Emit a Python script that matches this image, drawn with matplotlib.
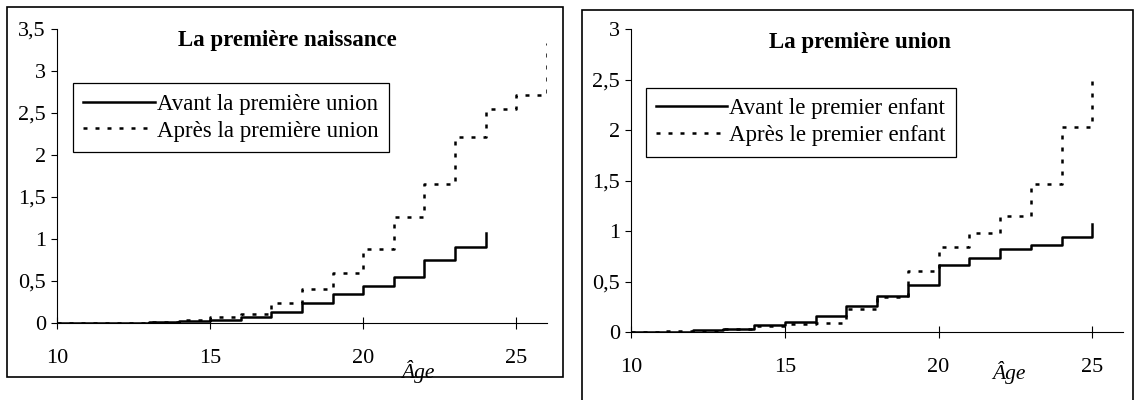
# -*- coding: utf-8 -*-
#%% modules
import matplotlib.pyplot as plt
from matplotlib.patches import Rectangle

plt.rcParams['font.family'] = ['Liberation Serif', 'DejaVu Serif']

#%% données (âge -> valeur cumulée, marches)
ages_naiss_avant = [10, 11, 12, 13, 14, 15, 16, 17, 18, 19, 20, 21, 22, 23, 24]
naiss_avant = [0, 0, 0, 0.01, 0.02, 0.04, 0.07, 0.13, 0.24, 0.34, 0.44, 0.55, 0.75, 0.91, 1.07]

ages_naiss_apres = [10, 11, 12, 13, 14, 15, 16, 17, 18, 19, 20, 21, 22, 23, 24, 25, 26]
naiss_apres = [0, 0, 0, 0.01, 0.03, 0.07, 0.11, 0.24, 0.40, 0.59, 0.88, 1.26, 1.65, 2.22, 2.55, 2.72, 3.33]

ages_union = [10, 11, 12, 13, 14, 15, 16, 17, 18, 19, 20, 21, 22, 23, 24, 25]
union_avant = [0, 0, 0.02, 0.03, 0.07, 0.10, 0.16, 0.26, 0.36, 0.47, 0.66, 0.73, 0.82, 0.86, 0.94, 1.07]
union_apres = [0, 0.005, 0.01, 0.03, 0.06, 0.08, 0.09, 0.23, 0.35, 0.60, 0.84, 0.98, 1.15, 1.47, 2.03, 2.55]

xticks = [10, 15, 20, 25]
yticks_g = [0, 0.5, 1, 1.5, 2, 2.5, 3, 3.5]
ylabels_g = ['0', '0,5', '1', '1,5', '2', '2,5', '3', '3,5']
yticks_d = [0, 0.5, 1, 1.5, 2, 2.5, 3]
ylabels_d = ['0', '0,5', '1', '1,5', '2', '2,5', '3']

#%% canevas
fig = plt.figure(figsize=(11.35, 4), dpi=100)

# cadres autour de chaque graphique
fig.add_artist(Rectangle((0.0062, 0.0575), 0.49, 0.925, transform=fig.transFigure,
                         fill=False, lw=1.2, ec='black'))
fig.add_artist(Rectangle((0.5128, -0.02), 0.485, 0.995, transform=fig.transFigure,
                         fill=False, lw=1.2, ec='black'))

dots = (0, (1.6, 3.2))


def habillage(ax, ymax, yticks, ylabels):
    ax.set_xlim(10, 26)
    ax.set_ylim(0, ymax)
    for s in ['top', 'right']:
        ax.spines[s].set_visible(False)
    ax.spines['left'].set_linewidth(0.8)
    ax.spines['bottom'].set_linewidth(0.8)
    ax.set_xticks(xticks)
    ax.set_yticks(yticks)
    ax.set_yticklabels(ylabels)
    ax.tick_params(axis='x', direction='inout', length=8, width=0.8, pad=15, labelsize=16)
    ax.tick_params(axis='y', direction='out', length=4, width=0.8, pad=4, labelsize=16)
    ax.patch.set_alpha(0)


#%% gauche : la première naissance
ax1 = fig.add_axes([0.0502, 0.1925, 0.4317, 0.735])
ax1.step(ages_naiss_avant, naiss_avant, where='post', color='black', lw=1.8,
         label='Avant la première union')
ax1.step(ages_naiss_apres, naiss_apres, where='post', color='black', lw=1.8,
         linestyle=dots, label='Après la première union')
habillage(ax1, 3.5, yticks_g, ylabels_g)
ax1.text(0.47, 0.96, 'La première naissance', transform=ax1.transAxes,
         ha='center', va='center', fontsize=16.5, fontweight='bold')
ax1.text(0.737, -0.165, 'Âge', transform=ax1.transAxes, ha='center', va='center',
         fontsize=15.5, style='italic')
leg1 = ax1.legend(loc='upper left', bbox_to_anchor=(0.033, 0.815), fontsize=16.5,
                  frameon=True, fancybox=False, edgecolor='black', framealpha=1,
                  handlelength=3.1, handletextpad=0.1, borderpad=0.45,
                  labelspacing=0.25, borderaxespad=0)
leg1.get_frame().set_linewidth(0.9)

#%% droite : la première union
ax2 = fig.add_axes([0.556, 0.17, 0.4335, 0.7575])
ax2.step(ages_union, union_avant, where='post', color='black', lw=1.8,
         label='Avant le premier enfant')
ax2.step(ages_union, union_apres, where='post', color='black', lw=1.8,
         linestyle=dots, label='Après le premier enfant')
habillage(ax2, 3, yticks_d, ylabels_d)
ax2.text(0.465, 0.955, 'La première union', transform=ax2.transAxes,
         ha='center', va='center', fontsize=16.5, fontweight='bold')
ax2.text(0.768, -0.135, 'Âge', transform=ax2.transAxes, ha='center', va='center',
         fontsize=15.5, style='italic')
leg2 = ax2.legend(loc='upper left', bbox_to_anchor=(0.03, 0.805), fontsize=16.5,
                  frameon=True, fancybox=False, edgecolor='black', framealpha=1,
                  handlelength=3.1, handletextpad=0.1, borderpad=0.45,
                  labelspacing=0.25, borderaxespad=0)
leg2.get_frame().set_linewidth(0.9)

fig.savefig('out.png', dpi=100)
